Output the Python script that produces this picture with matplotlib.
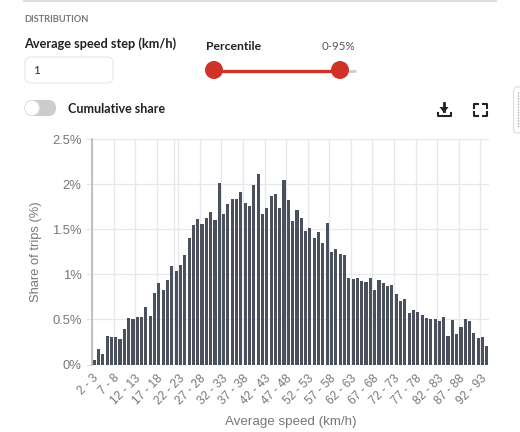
import matplotlib
matplotlib.use("Agg")
import matplotlib.pyplot as plt
from matplotlib.patches import Circle, FancyBboxPatch

# speed bins run 2-3 ... 93-94 km/h, one bar each
speed_bins = [f"{lo} - {lo + 1}" for lo in range(2, 94)]
share_of_trips = [
    0.055, 0.175, 0.12, 0.32, 0.31, 0.30, 0.28, 0.39, 0.515, 0.50,
    0.53, 0.53, 0.64, 0.535, 0.79, 0.90, 0.825, 0.935, 1.09, 1.04,
    1.10, 1.21, 1.40, 1.545, 1.61, 1.557, 1.62, 1.686, 1.60, 2.01,
    1.665, 1.775, 1.84, 1.84, 1.91, 1.79, 1.76, 1.99, 2.115, 1.67,
    1.73, 1.865, 1.89, 1.73, 2.05, 1.82, 1.59, 1.71, 1.62, 1.48,
    1.51, 1.40, 1.465, 1.345, 1.57, 1.25, 1.28, 1.23, 1.21, 0.955,
    0.947, 0.955, 0.93, 0.913, 0.955, 0.825, 0.94, 0.906, 0.865, 0.884,
    0.78, 0.70, 0.73, 0.573, 0.603, 0.58, 0.544, 0.514, 0.507, 0.50,
    0.477, 0.53, 0.318, 0.492, 0.337, 0.418, 0.507, 0.477, 0.344, 0.292,
    0.30, 0.20,
]
y_ticks = [0, 0.5, 1, 1.5, 2, 2.5]
y_tick_labels = ["0%", "0.5%", "1%", "1.5%", "2%", "2.5%"]

W, H = 520, 432
BAR = "#4a515c"
GRID = "#e6e7ea"
TXT = "#777777"
RED = "#cf3327"
DARK = "#222222"

fig = plt.figure(figsize=(W / 100, H / 100), dpi=100)

# ── page furniture, drawn in pixel coordinates ────────────────────────────────
ui = fig.add_axes([0, 0, 1, 1])
ui.set_xlim(0, W)
ui.set_ylim(H, 0)
ui.axis("off")

ui.plot([24, 496], [0.5, 0.5], color="#dddddd", lw=1.5)
ui.text(24, 20, "DISTRIBUTION", family="Lato", weight="bold", fontsize=6.7,
        color="#777777", va="center")
ui.text(24, 44, "Average speed step (km/h)", family="Lato", weight="bold",
        fontsize=9.2, color=DARK, va="center")
ui.add_patch(FancyBboxPatch((25, 57), 88, 26, boxstyle="round,pad=0,rounding_size=6",
                            fc="white", ec="#e6e6e6", lw=0.8))
ui.text(33, 70, "1", family="Lato", fontsize=8.5, color="#333333", va="center")

ui.text(206, 46, "Percentile", family="Lato", weight="bold", fontsize=8.8,
        color=DARK, va="center")
ui.text(355, 46, "0-95%", family="Lato", fontsize=8.3, color="#555555",
        va="center", ha="right")
ui.plot([340, 355], [70.5, 70.5], color="#cccccc", lw=2, solid_capstyle="round")
ui.plot([214, 340], [70.5, 70.5], color=RED, lw=2.4)
for cx in (214, 340):
    ui.add_patch(Circle((cx, 70), 9, fc=RED, ec="none", zorder=3))

ui.add_patch(FancyBboxPatch((25, 100), 31, 16, boxstyle="round,pad=0,rounding_size=8",
                            fc="#cccccc", ec="none"))
ui.add_patch(Circle((32, 108), 7.5, fc="white", ec="#dddddd", lw=0.6, zorder=3))
ui.text(68, 109, "Cumulative share", family="Lato", weight="bold", fontsize=9,
        color=DARK, va="center")

# download icon
ui.plot([444, 444], [103, 111], color=DARK, lw=2)
ui.fill([439.5, 448.5, 444], [107, 107, 113], color=DARK, lw=0)
ui.plot([437.5, 437.5, 450.5, 450.5], [113, 116, 116, 113], color=DARK, lw=1.5)
# fullscreen icon
for sx, sy in [(473.5, 103.5), (486.5, 103.5), (473.5, 115.5), (486.5, 115.5)]:
    dx = 4 if sx < 480 else -4
    dy = 4 if sy < 110 else -4
    ui.plot([sx + dx, sx, sx], [sy, sy, sy + dy], color=DARK, lw=1.5)

# side tab at the right edge
ui.add_patch(FancyBboxPatch((513.5, 87), 12, 46, boxstyle="round,pad=0,rounding_size=4",
                            fc="white", ec="#dddddd", lw=0.8, clip_on=True))
ui.plot([518, 518], [92, 128], color="#aaaaaa", lw=1, ls=(0, (1, 1)))

# ── histogram ─────────────────────────────────────────────────────────────────
left, right, top, bottom = 92, 489, 139, 364.5
ax = fig.add_axes([left / W, 1 - bottom / H, (right - left) / W, (bottom - top) / H])
ax.patch.set_alpha(0)

x_pos = list(range(len(speed_bins)))
ax.bar(x_pos, share_of_trips, width=0.72, color=BAR, zorder=3)
ax.set_xlim(-0.5, len(speed_bins) - 0.5)
ax.set_ylim(0, 2.5)

# ticks sit on the left edge of each fifth band
tick_pos = x_pos[::5]
ax.set_xticks([p - 0.5 for p in tick_pos])
ax.set_xticklabels([speed_bins[p] for p in tick_pos], rotation=45, ha="right",
                   rotation_mode="anchor", family="Liberation Sans", fontsize=8.6,
                   color=TXT)
ax.set_yticks(y_ticks)
ax.set_yticklabels(y_tick_labels, family="Liberation Sans", fontsize=9.4, color=TXT)
ax.tick_params(axis="x", length=0, pad=5.5)
ax.tick_params(axis="y", length=4.5, width=0.9, color=GRID, pad=3)
ax.grid(True, color=GRID, lw=0.9, zorder=0)
ax.set_axisbelow(True)
# the reference carries one stray vertical line just before the 22 - 23 tick
ax.axvline(18.5, color=GRID, lw=0.9, zorder=0)

for name, spine in ax.spines.items():
    spine.set_visible(name == "left")
ax.spines["left"].set_color("#b5b7bb")
ax.spines["left"].set_linewidth(1.2)

ax.set_xlabel("Average speed (km/h)", family="Liberation Sans", fontsize=9.6, color=TXT)
ax.set_ylabel("Share of trips (%)", family="Liberation Sans", fontsize=9.3, color=TXT)
ax.xaxis.set_label_coords(0.5, (bottom - 421.5) / (bottom - top), transform=ax.transAxes)
ax.xaxis.label.set_va("center")
ax.yaxis.set_label_coords((36 - left) / (right - left), 0.5, transform=ax.transAxes)
ax.yaxis.label.set_va("center")

fig.savefig("out.png", dpi=100)
